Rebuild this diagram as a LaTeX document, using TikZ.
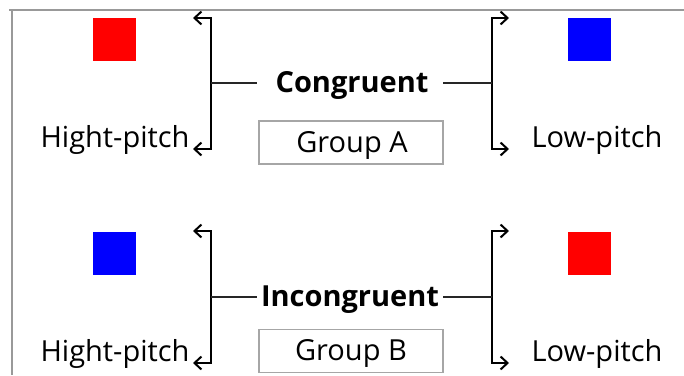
\documentclass[tikz,border=0pt]{standalone}
\usepackage{fontspec}
\setmainfont{Open Sans}
\usetikzlibrary{arrows.meta}
\tikzset{
  label/.style={font=\fontsize{29}{34}\selectfont, inner sep=0pt, anchor=base},
  title/.style={font=\fontsize{29}{34}\selectfont\bfseries, inner sep=0pt, anchor=base},
  groupbox/.style={draw=black!35, line width=1.2pt, minimum width=184pt, minimum height=43pt, inner sep=0pt},
  grouptext/.style={font=\fontsize{29}{34}\selectfont, inner sep=0pt, anchor=base},
  cue/.style={minimum width=43pt, minimum height=43pt, inner sep=0pt},
  bracket/.style={line width=2pt, -{Straight Barb[length=7pt,width=13pt,line width=2pt]}},
  stem/.style={line width=1.7pt, black!85},
  frame/.style={draw=black!40, line width=1.2pt}
}
\begin{document}
\begin{tikzpicture}[x=1pt,y=-1pt]
\useasboundingbox (0,0) rectangle (684,375);
% outer frame edges
\draw[frame] (9,10) -- (684,10);
\draw[frame] (12,10) -- (12,375);

% ---- congruent block ----
\node[cue, fill=red]  (sqA1) at (114.5,39.5) {};
\node[cue, fill=blue] (sqA2) at (589.5,39.5) {};
\node[label] (hiA) at (115,147) {Hight-pitch};
\node[label] (loA) at (597,147) {Low-pitch};
\node[title] (cong) at (352,92) {Congruent};
\node[groupbox] (grpA) at (351,142.5) {};
\node[grouptext] (grpAt) at (352,152) {Group A};

\coordinate (LtA) at (211,18);
\coordinate (LbA) at (211,149);
\coordinate (LmA) at (211,83);
\coordinate (RtA) at (492,18);
\coordinate (RbA) at (492,149);
\coordinate (RmA) at (492,83);
\coordinate (LtAe) at (193,18);
\coordinate (LbAe) at (193,149);
\coordinate (RtAe) at (509,18);
\coordinate (RbAe) at (509,149);

\draw[bracket] (LbA) -- (LtA) -- (LtAe);
\draw[bracket] (LtA) -- (LbA) -- (LbAe);
\draw[bracket] (RbA) -- (RtA) -- (RtAe);
\draw[bracket] (RtA) -- (RbA) -- (RbAe);
\draw[stem] (LmA) -- (257,83);
\draw[stem] (443,83) -- (RmA);

% ---- incongruent block ----
\node[cue, fill=blue] (sqB1) at (114.5,253.5) {};
\node[cue, fill=red]  (sqB2) at (589.5,253.5) {};
\node[label] (hiB) at (115,361) {Hight-pitch};
\node[label] (loB) at (597,361) {Low-pitch};
\node[title] (incong) at (350,306) {Incongruent};
\node[groupbox] (grpB) at (351,351) {};
\node[grouptext] (grpBt) at (351,360) {Group B};

\coordinate (LtB) at (211,231);
\coordinate (LbB) at (211,363);
\coordinate (LmB) at (211,297);
\coordinate (RtB) at (492,231);
\coordinate (RbB) at (492,363);
\coordinate (RmB) at (492,297);
\coordinate (LtBe) at (193,231);
\coordinate (LbBe) at (193,363);
\coordinate (RtBe) at (509,231);
\coordinate (RbBe) at (509,363);

\draw[bracket] (LbB) -- (LtB) -- (LtBe);
\draw[bracket] (LtB) -- (LbB) -- (LbBe);
\draw[bracket] (RbB) -- (RtB) -- (RtBe);
\draw[bracket] (RtB) -- (RbB) -- (RbBe);
\draw[stem] (LmB) -- (257,297);
\draw[stem] (443,297) -- (RmB);
\end{tikzpicture}
\end{document}
